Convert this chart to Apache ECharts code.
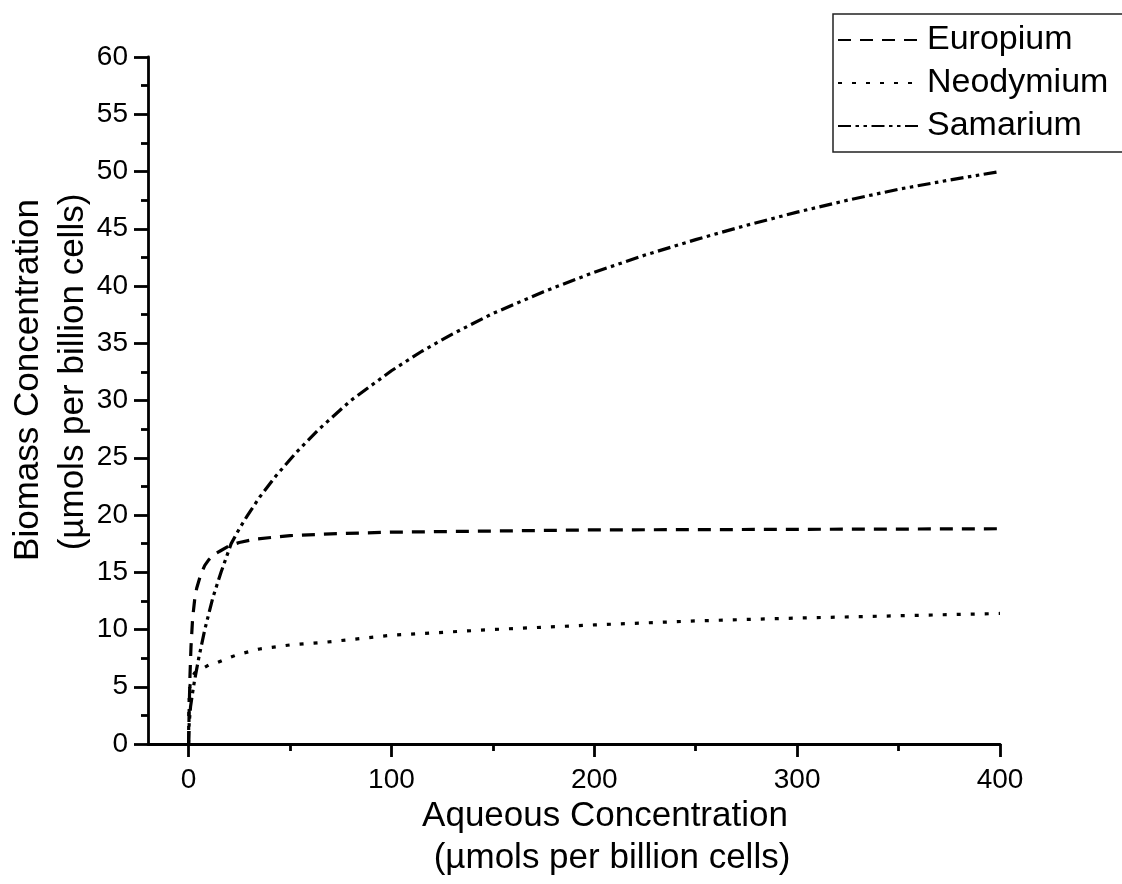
<!DOCTYPE html>
<html>
<head>
<meta charset="utf-8">
<title>Biomass vs Aqueous Concentration</title>
<script src="https://cdn.jsdelivr.net/npm/echarts@6/dist/echarts.min.js"></script>
<style>
  html, body { margin: 0; padding: 0; background: #fff; }
  #chart { width: 1122px; height: 884px; }
</style>
</head>
<body>
<div id="chart"></div>
<script>
// Aqueous concentration (x) and biomass concentration (y), µmols per billion cells
const europiumX = [0, 0.3, 0.7, 1.2, 2, 3, 4, 6, 8, 10, 13, 16, 20, 25, 33, 50, 70, 100, 150, 200, 250, 300, 350, 400];
const europiumY = [0, 3, 6, 8.5, 11, 12.6, 13.6, 14.8, 15.6, 16.1, 16.6, 16.9, 17.3, 17.6, 17.9, 18.2, 18.35, 18.5, 18.6, 18.7, 18.72, 18.75, 18.77, 18.8];

const neodymiumX = [0, 0.1, 0.3, 0.7, 1.5, 3, 5, 7, 10, 14, 18, 24, 35, 50, 68, 100, 150, 200, 250, 300, 350, 400];
const neodymiumY = [0, 2.5, 4, 5.1, 5.8, 6.2, 6.4, 6.6, 6.9, 7.1, 7.4, 7.8, 8.3, 8.65, 8.9, 9.5, 10.0, 10.4, 10.75, 11.0, 11.2, 11.4];

const samariumX = [0, 0.3, 1, 2, 3, 5, 8, 12, 16, 21, 25, 29, 35, 43, 53, 64, 80, 100, 115, 130, 150, 175, 200, 225, 250, 275, 300, 325, 350, 375, 400];
const samariumY = [0, 1.8, 3.3, 4.5, 5.6, 7.5, 10, 12.8, 15, 17.5, 18.8, 19.95, 21.55, 23.4, 25.45, 27.45, 30.0, 32.6, 34.3, 35.8, 37.6, 39.5, 41.2, 42.7, 44.05, 45.3, 46.45, 47.5, 48.45, 49.25, 50];

const seriesNames = ['Europium', 'Neodymium', 'Samarium'];

// Axis tick positions
const xTicks = [0, 100, 200, 300, 400];
const xMinorTicks = [50, 150, 250, 350];

const xTitle = ['Aqueous Concentration', '(µmols per billion cells)'];
const yTitle = ['Biomass Concentration', '(µmols per billion cells)'];

const FONT = '"Liberation Sans", Arial, sans-serif';
const INK = '#000';

function pairs(xs, ys) {
  return xs.map((x, i) => [x, ys[i]]);
}

function curve(name, xs, ys, dash) {
  return {
    name: name,
    type: 'line',
    xAxisIndex: 0,
    yAxisIndex: 0,
    data: pairs(xs, ys),
    symbol: 'none',
    showSymbol: false,
    smooth: false,
    silent: true,
    lineStyle: { color: INK, width: 3.2, type: dash, cap: 'butt', join: 'round' },
    itemStyle: { color: INK }
  };
}

function titleText(text, x, y, rotation) {
  return {
    type: 'text', x: x, y: y, rotation: rotation || 0, silent: true,
    style: {
      text: text, fontSize: 35, fontFamily: FONT, fill: INK,
      align: 'center', verticalAlign: 'middle',
      textAlign: 'center', textVerticalAlign: 'middle'
    }
  };
}

const chart = echarts.init(document.getElementById('chart'), null, { renderer: 'canvas' });

const axisLineStyle = { color: INK, width: 2.8 };

chart.setOption({
  animation: false,
  backgroundColor: '#fff',
  textStyle: { fontFamily: FONT, color: INK },
  grid: { left: 148, right: 122, top: 57, bottom: 140, containLabel: false },
  xAxis: [
    {
      type: 'value',
      min: -20,
      max: 400,
      position: 'bottom',
      axisLine: { show: true, onZero: false, lineStyle: axisLineStyle },
      axisTick: { show: true, customValues: xTicks, length: 13, lineStyle: axisLineStyle },
      axisLabel: { customValues: xTicks, fontSize: 28, color: INK, fontFamily: FONT, margin: 22 },
      splitLine: { show: false }
    },
    {
      type: 'value',
      min: -20,
      max: 400,
      position: 'bottom',
      axisLine: { show: false, onZero: false },
      axisTick: { show: true, customValues: xMinorTicks, length: 7, lineStyle: axisLineStyle },
      axisLabel: { show: false },
      splitLine: { show: false }
    }
  ],
  yAxis: {
    type: 'value',
    min: 0,
    max: 60,
    interval: 5,
    axisLine: { show: true, onZero: false, lineStyle: axisLineStyle },
    axisTick: { show: true, length: 14, lineStyle: axisLineStyle },
    minorTick: { show: true, splitNumber: 2, length: 7, lineStyle: axisLineStyle },
    axisLabel: { fontSize: 28, color: INK, fontFamily: FONT, margin: 20 },
    splitLine: { show: false }
  },
  legend: {
    data: seriesNames,
    orient: 'vertical',
    left: 833,
    top: 14,
    padding: [9, 30, 9, 4],
    itemWidth: 84,
    itemHeight: 14,
    itemGap: 9,
    selectedMode: false,
    borderColor: '#222',
    borderWidth: 1.5,
    itemStyle: { color: 'rgba(0,0,0,0)', borderWidth: 0, opacity: 0 },
    textStyle: { fontSize: 34, color: INK, fontFamily: FONT }
  },
  graphic: [
    titleText(xTitle[0], 605, 816),
    titleText(xTitle[1], 612, 858),
    titleText(yTitle[0], 28, 380, Math.PI / 2),
    titleText(yTitle[1], 73, 372, Math.PI / 2)
  ],
  series: [
    curve(seriesNames[0], europiumX, europiumY, [13, 9]),
    curve(seriesNames[1], neodymiumX, neodymiumY, [4, 10]),
    curve(seriesNames[2], samariumX, samariumY, [13, 4.5, 3.5, 4.5, 3.5, 4.5])
  ]
});
</script>
</body>
</html>
